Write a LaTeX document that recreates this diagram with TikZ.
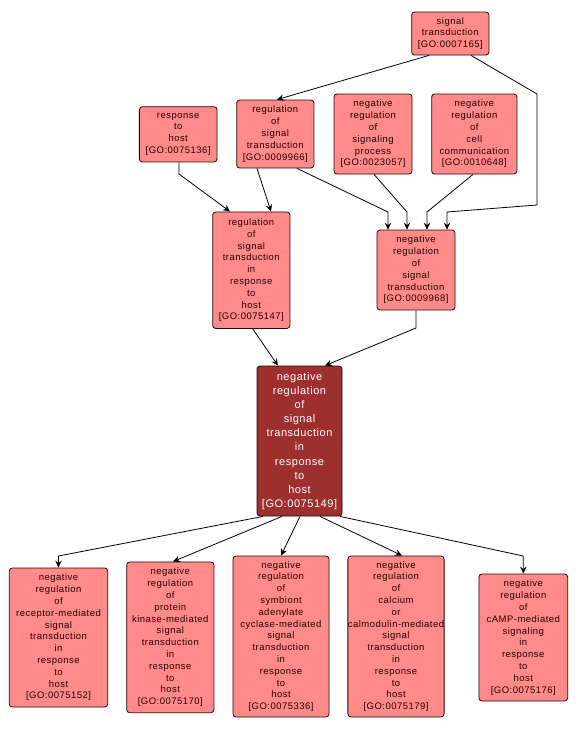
\documentclass[tikz,border=0pt]{standalone}
\usepackage{fontspec}
\setmainfont{Liberation Sans}
\usetikzlibrary{arrows.meta,calc}
\definecolor{lightred}{RGB}{255,138,138}
\definecolor{darkred}{RGB}{158,47,47}
\definecolor{boxline}{RGB}{40,10,10}
\definecolor{boxtext}{RGB}{40,0,0}
\begin{document}
\begin{tikzpicture}[x=1pt,y=-1pt,
  gobox/.style={draw=boxline, line width=0.8pt, rounded corners=3pt, fill=lightred,
    align=center, inner sep=0pt, text=boxtext,
    font=\fontsize{9.5}{11.8}\selectfont\addfontfeatures{LetterSpace=5}},
  mainbox/.style={gobox, fill=darkred, text=white,
    font=\fontsize{11}{14.1}\selectfont\addfontfeatures{LetterSpace=5}},
  edge/.style={draw=black, line width=0.8pt, -{Stealth[length=7pt,width=6.5pt,inset=2.5pt]}},
]
\fill[white] (0,0) rectangle (578,732);
\useasboundingbox (0,0) rectangle (578,732);

\node[gobox, minimum width=77.3pt, minimum height=43pt] (st) at (450.3,33.5) {signal\\transduction\\{[GO:0007165]}};
\node[gobox, minimum width=77.7pt, minimum height=55.3pt] (rth) at (178.2,134.3) {response\\to\\host\\{[GO:0075136]}};
\node[gobox, minimum width=77.3pt, minimum height=68pt] (rst) at (275.3,134) {regulation\\of\\signal\\transduction\\{[GO:0009966]}};
\node[gobox, minimum width=78pt, minimum height=80pt] (nrsp) at (373,134) {negative\\regulation\\of\\signaling\\process\\{[GO:0023057]}};
\node[gobox, minimum width=85.3pt, minimum height=80pt] (nrcc) at (474.3,134) {negative\\regulation\\of\\cell\\communication\\{[GO:0010648]}};
\node[gobox, minimum width=77.3pt, minimum height=116.5pt] (rstrh) at (251.3,270.2) {regulation\\of\\signal\\transduction\\in\\response\\to\\host\\{[GO:0075147]}};
\node[gobox, minimum width=78pt, minimum height=80pt] (nrst) at (416,270) {negative\\regulation\\of\\signal\\transduction\\{[GO:0009968]}};
\node[mainbox, minimum width=85pt, minimum height=150pt] (main) at (299.5,441) {negative\\regulation\\of\\signal\\transduction\\in\\response\\to\\host\\{[GO:0075149]}};
\node[gobox, minimum width=98.4pt, minimum height=139pt] (b1) at (58.5,637.5) {negative\\regulation\\of\\receptor-mediated\\signal\\transduction\\in\\response\\to\\host\\{[GO:0075152]}};
\node[gobox, minimum width=87.3pt, minimum height=150.7pt] (b2) at (170.3,637.3) {negative\\regulation\\of\\protein\\kinase-mediated\\signal\\transduction\\in\\response\\to\\host\\{[GO:0075170]}};
\node[gobox, minimum width=96pt, minimum height=161pt] (b3) at (281,636.5) {negative\\regulation\\of\\symbiont\\adenylate\\cyclase-mediated\\signal\\transduction\\in\\response\\to\\host\\{[GO:0075336]}};
\node[gobox, minimum width=96pt, minimum height=161pt] (b4) at (396,636.5) {negative\\regulation\\of\\calcium\\or\\calmodulin-mediated\\signal\\transduction\\in\\response\\to\\host\\{[GO:0075179]}};
\node[gobox, minimum width=88.7pt, minimum height=127pt] (b5) at (523.3,637.5) {negative\\regulation\\of\\cAMP-mediated\\signaling\\in\\response\\to\\host\\{[GO:0075176]}};

\coordinate (k1) at (537,94);
\coordinate (k2) at (537,205);
\coordinate (k3) at (447,212);
\coordinate (k4) at (388,212);
\coordinate (k5) at (407,212);
\coordinate (k6) at (427,212);
\coordinate (k7) at (179,174);
\coordinate (k8) at (416,328);
\coordinate (k9) at (58.5,556);
\coordinate (k10) at (523.3,556);

\draw[edge] ([xshift=-21.3pt]st.south) -- ([xshift=1.7pt]rst.north);
\draw[edge] ([xshift=20.7pt]st.south) -- (k1) -- (k2) -- (k3) -- ([xshift=31pt]nrst.north);
\draw[edge] ([xshift=21.7pt]rst.south) -- (k4) -- ([xshift=-28pt]nrst.north);
\draw[edge] ([xshift=1pt]nrsp.south) -- (k5) -- ([xshift=-9pt]nrst.north);
\draw[edge] ([xshift=-1.3pt]nrcc.south) -- (k6) -- ([xshift=11pt]nrst.north);
\draw[edge] ([xshift=0.8pt]rth.south) -- (k7) -- ([xshift=-21.3pt]rstrh.north);
\draw[edge] ([xshift=-18.3pt]rst.south) -- ([xshift=19.7pt]rstrh.north);
\draw[edge] ([xshift=1.4pt]rstrh.south) -- ([xshift=-21.5pt]main.north);
\draw[edge] (nrst.south) -- (k8) -- ([xshift=25.5pt]main.north);
\draw[edge] ([xshift=-36.5pt]main.south) -- (k9) -- (b1.north);
\draw[edge] ([xshift=-17.5pt]main.south) -- ([xshift=2.7pt]b2.north);
\draw[edge] ([xshift=0.5pt]main.south) -- (b3.north);
\draw[edge] ([xshift=20.5pt]main.south) -- ([xshift=6pt]b4.north);
\draw[edge] ([xshift=40.5pt]main.south) -- (k10) -- (b5.north);
\end{tikzpicture}
\end{document}
